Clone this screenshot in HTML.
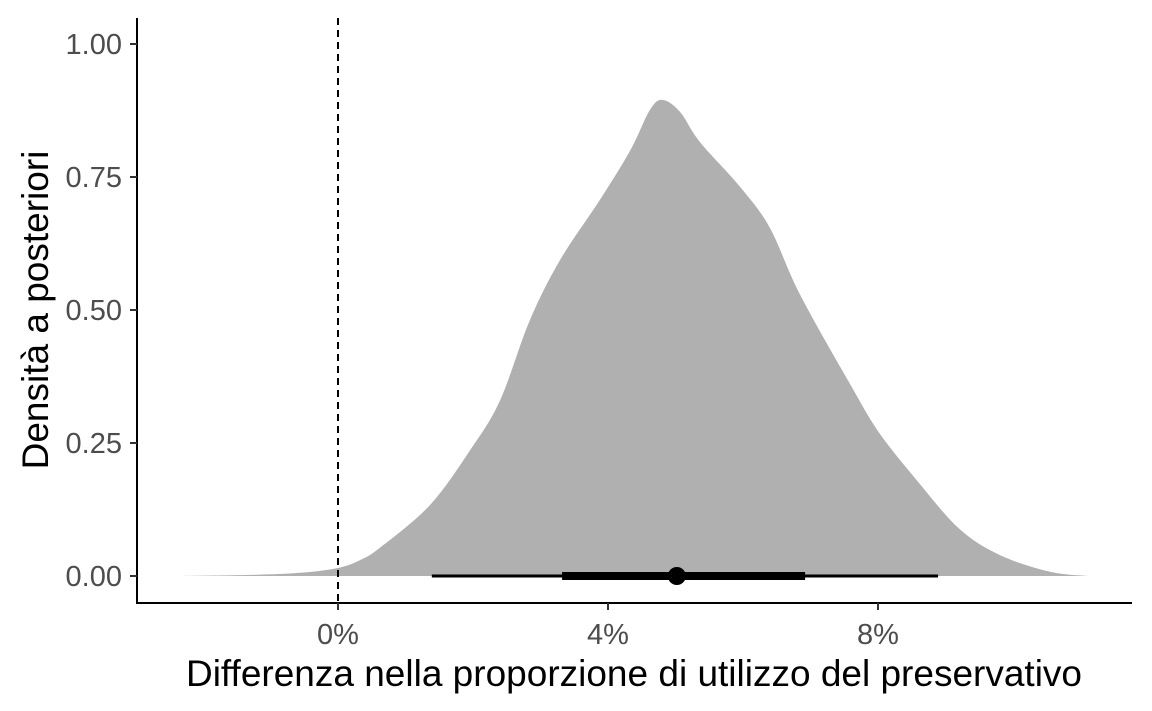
<!DOCTYPE html>
<html><head><meta charset="utf-8"><style>
html,body{margin:0;padding:0;background:#fff;}
svg{display:block;font-family:"Liberation Sans",Arial,sans-serif;}
</style></head><body>
<svg id="chart" width="1152" height="711"></svg>
<script>
const densX = [-2.30,-1.30,-0.56,0,0.33,0.62,1.36,1.96,2.40,2.84,3.29,3.88,4.33,4.62,4.81,5.07,5.36,5.96,6.40,6.84,7.59,8.03,8.62,9.21,9.81,10.55,11.11];
const densY = [0,0.002,0.006,0.015,0.03,0.053,0.133,0.237,0.33,0.48,0.594,0.707,0.80,0.876,0.895,0.872,0.816,0.731,0.654,0.53,0.36,0.267,0.173,0.088,0.039,0.008,0];
const yTicks = [0,0.25,0.5,0.75,1.0];
const yTickLabels = ["0.00","0.25","0.50","0.75","1.00"];
const xTicks = [0,4,8];
const xTickLabels = ["0%","4%","8%"];
const intervalOuter = [1.39,8.89];
const intervalInner = [3.32,6.92];
const pointEst = [5.02];
const refLine = [0];

const NS="http://www.w3.org/2000/svg";
const svg=document.getElementById('chart');
const sx=v=>338+v*67.5;
const sy=v=>576-v*532;
function mk(tag,attrs,parent){const e=document.createElementNS(NS,tag);for(const k in attrs)e.setAttribute(k,attrs[k]);(parent||svg).appendChild(e);return e;}

const pts=densX.map((x,i)=>[sx(x),sy(densY[i])]);
let d=`M${pts[0][0]},${pts[0][1]}`;
for(let i=0;i<pts.length-1;i++){
  const p0=pts[Math.max(0,i-1)],p1=pts[i],p2=pts[i+1],p3=pts[Math.min(pts.length-1,i+2)];
  const c1=[p1[0]+(p2[0]-p0[0])/6,p1[1]+(p2[1]-p0[1])/6];
  const c2=[p2[0]-(p3[0]-p1[0])/6,p2[1]-(p3[1]-p1[1])/6];
  d+=` C${c1[0]},${c1[1]} ${c2[0]},${c2[1]} ${p2[0]},${p2[1]}`;
}
d+=' Z';
const area=mk('path',{d:d,fill:'#b0b0b0',stroke:'none'});



const ref=mk('line',{x1:sx(refLine[0]),x2:sx(refLine[0]),y1:18,y2:603,stroke:'#000','stroke-width':2,'stroke-dasharray':'7,5'});



const outer=mk('line',{x1:sx(intervalOuter[0]),x2:sx(intervalOuter[1]),y1:sy(0),y2:sy(0),stroke:'#000','stroke-width':3});


const inner=mk('line',{x1:sx(intervalInner[0]),x2:sx(intervalInner[1]),y1:sy(0),y2:sy(0),stroke:'#000','stroke-width':8});


const pt=mk('circle',{cx:sx(pointEst[0]),cy:sy(0),r:9,fill:'#000'});



const yax=mk('line',{x1:137,x2:137,y1:18,y2:603,stroke:'#000','stroke-width':2});


const xax=mk('line',{x1:136,x2:1132,y1:603,y2:603,stroke:'#000','stroke-width':2});



yTicks.forEach((v,i)=>{
  const t=mk('line',{x1:130,x2:137,y1:sy(v),y2:sy(v),stroke:'#333','stroke-width':2});
  
  
  const l=mk('text',{x:122,y:sy(v)+10,'text-anchor':'end','font-size':29,fill:'#4d4d4d'});
  l.textContent=yTickLabels[i];
  
  
});
xTicks.forEach((v,i)=>{
  const t=mk('line',{x1:sx(v),x2:sx(v),y1:603,y2:610,stroke:'#333','stroke-width':2});
  
  
  const l=mk('text',{x:sx(v),y:644,'text-anchor':'middle','font-size':29,fill:'#4d4d4d'});
  l.textContent=xTickLabels[i];
  
  
});
const xt=mk('text',{x:634,y:686,'text-anchor':'middle','font-size':37,fill:'#000'});
xt.textContent='Differenza nella proporzione di utilizzo del preservativo';


const yt=mk('text',{x:0,y:0,'text-anchor':'middle','font-size':37,fill:'#000',transform:'translate(48,310) rotate(-90)'});
yt.textContent='Densità a posteriori';


</script>
</body></html>
